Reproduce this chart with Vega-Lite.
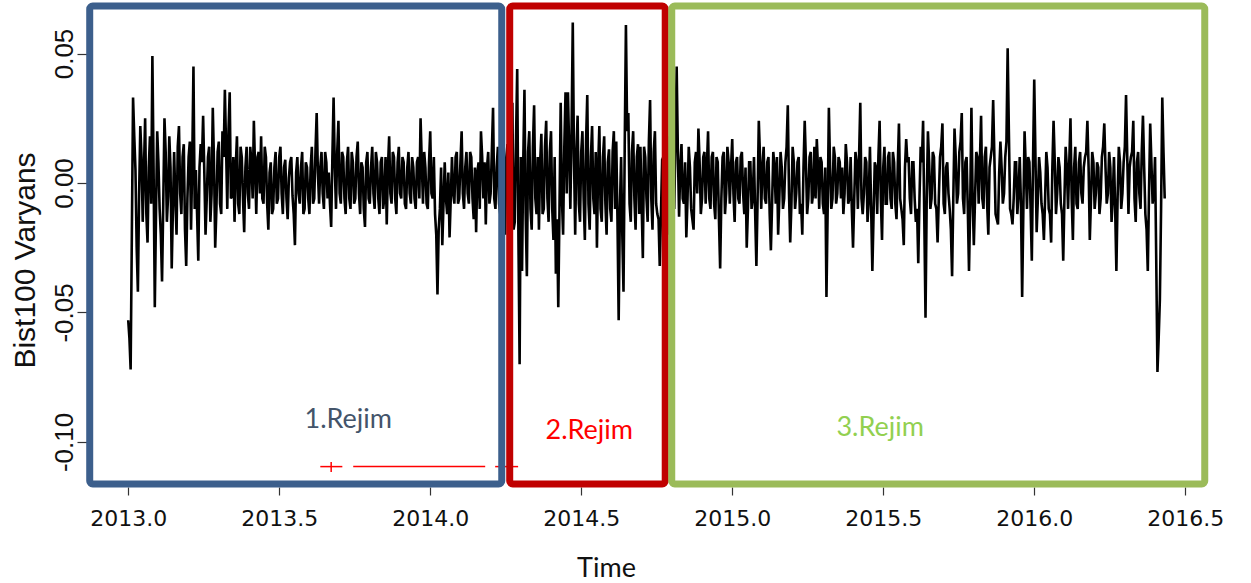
{
"$schema":"https://vega.github.io/schema/vega-lite/v6.json",
"width":1115,"height":482,
"autosize":{"type":"none"},
"padding":{"left":87,"top":5,"right":49,"bottom":96},
"background":"white",
"config":{"view":{"stroke":null}},
"datasets":{
"s":[
{"t":2013.000,"v":-0.053},{"t":2013.008,"v":-0.072},{"t":2013.016,"v":0.033},{"t":2013.024,"v":0.005},{"t":2013.032,"v":-0.042},{"t":2013.040,"v":0.022},{"t":2013.048,"v":-0.015},{"t":2013.056,"v":0.025},{"t":2013.064,"v":-0.023},{"t":2013.072,"v":0.018},
{"t":2013.080,"v":0.049},{"t":2013.088,"v":-0.048},{"t":2013.096,"v":0.020},{"t":2013.104,"v":-0.010},{"t":2013.112,"v":-0.038},{"t":2013.120,"v":0.025},{"t":2013.128,"v":-0.015},{"t":2013.136,"v":0.018},{"t":2013.144,"v":-0.033},{"t":2013.152,"v":0.012},
{"t":2013.160,"v":-0.020},{"t":2013.168,"v":0.022},{"t":2013.176,"v":-0.012},{"t":2013.184,"v":0.015},{"t":2013.192,"v":-0.032},{"t":2013.200,"v":0.010},{"t":2013.208,"v":-0.018},{"t":2013.216,"v":0.045},{"t":2013.224,"v":0.005},{"t":2013.232,"v":-0.030},
{"t":2013.240,"v":0.015},{"t":2013.248,"v":0.026},{"t":2013.256,"v":-0.020},{"t":2013.264,"v":0.010},{"t":2013.272,"v":-0.015},{"t":2013.280,"v":0.029},{"t":2013.288,"v":-0.025},{"t":2013.296,"v":0.012},{"t":2013.304,"v":-0.008},{"t":2013.312,"v":0.020},
{"t":2013.320,"v":0.036},{"t":2013.328,"v":-0.010},{"t":2013.336,"v":0.035},{"t":2013.344,"v":-0.005},{"t":2013.352,"v":-0.015},{"t":2013.360,"v":0.018},{"t":2013.368,"v":-0.012},{"t":2013.376,"v":0.010},{"t":2013.384,"v":-0.019},{"t":2013.392,"v":0.014},
{"t":2013.400,"v":-0.010},{"t":2013.408,"v":0.008},{"t":2013.416,"v":0.024},{"t":2013.424,"v":-0.012},{"t":2013.432,"v":0.012},{"t":2013.440,"v":0.018},{"t":2013.448,"v":-0.008},{"t":2013.456,"v":0.010},{"t":2013.464,"v":-0.018},{"t":2013.472,"v":0.008},
{"t":2013.480,"v":-0.010},{"t":2013.488,"v":0.012},{"t":2013.496,"v":-0.006},{"t":2013.504,"v":0.014},{"t":2013.512,"v":-0.012},{"t":2013.520,"v":0.009},{"t":2013.528,"v":-0.014},{"t":2013.536,"v":0.008},{"t":2013.544,"v":-0.005},{"t":2013.552,"v":-0.024},
{"t":2013.560,"v":0.010},{"t":2013.568,"v":-0.008},{"t":2013.576,"v":0.012},{"t":2013.584,"v":-0.010},{"t":2013.592,"v":0.006},{"t":2013.600,"v":-0.012},{"t":2013.608,"v":0.014},{"t":2013.616,"v":-0.006},{"t":2013.624,"v":0.027},{"t":2013.632,"v":-0.008},
{"t":2013.640,"v":0.012},{"t":2013.648,"v":-0.010},{"t":2013.656,"v":0.008},{"t":2013.664,"v":0.004},{"t":2013.672,"v":-0.017},{"t":2013.680,"v":0.033},{"t":2013.688,"v":-0.010},{"t":2013.696,"v":0.024},{"t":2013.704,"v":-0.008},{"t":2013.712,"v":0.010},
{"t":2013.720,"v":-0.012},{"t":2013.728,"v":0.014},{"t":2013.736,"v":-0.010},{"t":2013.744,"v":0.008},{"t":2013.752,"v":-0.006},{"t":2013.760,"v":0.016},{"t":2013.768,"v":-0.012},{"t":2013.776,"v":0.006},{"t":2013.784,"v":-0.017},{"t":2013.792,"v":0.012},
{"t":2013.800,"v":-0.008},{"t":2013.808,"v":0.014},{"t":2013.816,"v":-0.010},{"t":2013.824,"v":0.008},{"t":2013.832,"v":-0.012},{"t":2013.840,"v":0.010},{"t":2013.848,"v":-0.006},{"t":2013.856,"v":-0.016},{"t":2013.864,"v":0.018},{"t":2013.872,"v":-0.008},
{"t":2013.880,"v":0.010},{"t":2013.888,"v":-0.012},{"t":2013.896,"v":0.014},{"t":2013.904,"v":-0.006},{"t":2013.912,"v":0.008},{"t":2013.920,"v":-0.010},{"t":2013.928,"v":0.012},{"t":2013.936,"v":-0.008},{"t":2013.944,"v":0.006},{"t":2013.952,"v":-0.010},
{"t":2013.960,"v":0.010},{"t":2013.968,"v":0.025},{"t":2013.976,"v":-0.008},{"t":2013.984,"v":0.006},{"t":2013.992,"v":-0.010},{"t":2014.000,"v":0.020},{"t":2014.008,"v":-0.006},{"t":2014.016,"v":-0.012},{"t":2014.024,"v":-0.043},{"t":2014.032,"v":-0.010},
{"t":2014.040,"v":-0.024},{"t":2014.048,"v":0.008},{"t":2014.056,"v":-0.012},{"t":2014.064,"v":-0.021},{"t":2014.072,"v":0.010},{"t":2014.080,"v":-0.008},{"t":2014.088,"v":0.012},{"t":2014.096,"v":-0.006},{"t":2014.104,"v":0.020},{"t":2014.112,"v":-0.010},
{"t":2014.120,"v":0.012},{"t":2014.128,"v":-0.008},{"t":2014.136,"v":0.010},{"t":2014.144,"v":-0.014},{"t":2014.152,"v":-0.019},{"t":2014.160,"v":0.008},{"t":2014.168,"v":0.020},{"t":2014.176,"v":-0.006},{"t":2014.184,"v":-0.016},{"t":2014.192,"v":0.012},
{"t":2014.200,"v":-0.004},{"t":2014.208,"v":0.029},{"t":2014.216,"v":-0.010},{"t":2014.224,"v":0.014},{"t":2014.232,"v":-0.012},{"t":2014.240,"v":0.018},{"t":2014.248,"v":-0.020},{"t":2014.256,"v":0.015},{"t":2014.264,"v":-0.010},{"t":2014.272,"v":0.031},
{"t":2014.280,"v":-0.015},{"t":2014.288,"v":0.044},{"t":2014.296,"v":-0.070},{"t":2014.304,"v":-0.034},{"t":2014.312,"v":0.036},{"t":2014.320,"v":-0.036},{"t":2014.328,"v":0.020},{"t":2014.336,"v":-0.018},{"t":2014.344,"v":0.030},{"t":2014.352,"v":-0.012},
{"t":2014.360,"v":-0.018},{"t":2014.368,"v":0.019},{"t":2014.376,"v":-0.010},{"t":2014.384,"v":0.024},{"t":2014.392,"v":-0.015},{"t":2014.400,"v":0.020},{"t":2014.408,"v":-0.022},{"t":2014.416,"v":-0.035},{"t":2014.424,"v":-0.048},{"t":2014.432,"v":0.031},
{"t":2014.440,"v":-0.020},{"t":2014.448,"v":0.035},{"t":2014.456,"v":0.035},{"t":2014.464,"v":-0.010},{"t":2014.472,"v":0.062},{"t":2014.480,"v":-0.020},{"t":2014.488,"v":0.026},{"t":2014.496,"v":-0.015},{"t":2014.504,"v":0.020},{"t":2014.512,"v":-0.022},
{"t":2014.520,"v":0.034},{"t":2014.528,"v":-0.018},{"t":2014.536,"v":0.022},{"t":2014.544,"v":-0.012},{"t":2014.552,"v":-0.025},{"t":2014.560,"v":0.022},{"t":2014.568,"v":-0.015},{"t":2014.576,"v":0.018},{"t":2014.584,"v":-0.020},{"t":2014.592,"v":0.013},
{"t":2014.600,"v":-0.015},{"t":2014.608,"v":0.020},{"t":2014.616,"v":0.016},{"t":2014.624,"v":-0.053},{"t":2014.632,"v":0.010},{"t":2014.640,"v":-0.042},{"t":2014.648,"v":0.061},{"t":2014.656,"v":0.027},{"t":2014.664,"v":-0.015},{"t":2014.672,"v":0.020},
{"t":2014.680,"v":-0.018},{"t":2014.688,"v":0.015},{"t":2014.696,"v":0.014},{"t":2014.704,"v":-0.029},{"t":2014.712,"v":0.010},{"t":2014.720,"v":-0.015},{"t":2014.728,"v":0.032},{"t":2014.736,"v":-0.018},{"t":2014.744,"v":0.020},{"t":2014.752,"v":-0.012},
{"t":2014.760,"v":-0.032},{"t":2014.768,"v":0.009},{"t":2014.776,"v":-0.015},{"t":2014.784,"v":0.018},{"t":2014.792,"v":-0.020},{"t":2014.800,"v":0.012},{"t":2014.808,"v":-0.010},{"t":2014.816,"v":0.045},{"t":2014.824,"v":-0.013},{"t":2014.832,"v":0.015},
{"t":2014.840,"v":-0.008},{"t":2014.848,"v":-0.021},{"t":2014.856,"v":0.014},{"t":2014.864,"v":-0.010},{"t":2014.872,"v":-0.018},{"t":2014.880,"v":0.012},{"t":2014.888,"v":0.021},{"t":2014.896,"v":-0.012},{"t":2014.904,"v":0.010},{"t":2014.912,"v":-0.008},
{"t":2014.920,"v":0.020},{"t":2014.928,"v":-0.010},{"t":2014.936,"v":0.012},{"t":2014.944,"v":-0.014},{"t":2014.952,"v":0.008},{"t":2014.960,"v":-0.033},{"t":2014.968,"v":0.010},{"t":2014.976,"v":-0.012},{"t":2014.984,"v":0.014},{"t":2014.992,"v":-0.008},
{"t":2015.000,"v":0.017},{"t":2015.008,"v":-0.015},{"t":2015.016,"v":0.010},{"t":2015.024,"v":-0.008},{"t":2015.032,"v":0.012},{"t":2015.040,"v":-0.012},{"t":2015.048,"v":-0.025},{"t":2015.056,"v":0.008},{"t":2015.064,"v":-0.010},{"t":2015.072,"v":0.010},
{"t":2015.080,"v":-0.032},{"t":2015.088,"v":0.024},{"t":2015.096,"v":-0.010},{"t":2015.104,"v":0.014},{"t":2015.112,"v":-0.008},{"t":2015.120,"v":0.010},{"t":2015.128,"v":-0.026},{"t":2015.136,"v":0.012},{"t":2015.144,"v":-0.008},{"t":2015.152,"v":-0.020},
{"t":2015.160,"v":0.012},{"t":2015.168,"v":-0.010},{"t":2015.176,"v":0.008},{"t":2015.184,"v":0.030},{"t":2015.192,"v":-0.023},{"t":2015.200,"v":0.014},{"t":2015.208,"v":-0.010},{"t":2015.216,"v":0.008},{"t":2015.224,"v":-0.012},{"t":2015.232,"v":-0.020},
{"t":2015.240,"v":0.024},{"t":2015.248,"v":-0.012},{"t":2015.256,"v":0.010},{"t":2015.264,"v":-0.008},{"t":2015.272,"v":0.014},{"t":2015.280,"v":0.017},{"t":2015.288,"v":-0.010},{"t":2015.296,"v":0.008},{"t":2015.304,"v":-0.012},{"t":2015.312,"v":-0.044},
{"t":2015.320,"v":0.029},{"t":2015.328,"v":-0.010},{"t":2015.336,"v":0.014},{"t":2015.344,"v":-0.008},{"t":2015.352,"v":0.010},{"t":2015.360,"v":-0.006},{"t":2015.368,"v":-0.012},{"t":2015.376,"v":0.015},{"t":2015.384,"v":-0.008},{"t":2015.392,"v":0.010},
{"t":2015.400,"v":-0.025},{"t":2015.408,"v":0.012},{"t":2015.416,"v":-0.010},{"t":2015.424,"v":0.031},{"t":2015.432,"v":-0.012},{"t":2015.440,"v":0.010},{"t":2015.448,"v":-0.015},{"t":2015.456,"v":0.014},{"t":2015.464,"v":-0.034},{"t":2015.472,"v":0.008},
{"t":2015.480,"v":-0.012},{"t":2015.488,"v":0.024},{"t":2015.496,"v":-0.022},{"t":2015.504,"v":0.014},{"t":2015.512,"v":-0.008},{"t":2015.520,"v":0.012},{"t":2015.528,"v":-0.010},{"t":2015.536,"v":0.008},{"t":2015.544,"v":-0.014},{"t":2015.552,"v":0.023},
{"t":2015.560,"v":-0.010},{"t":2015.568,"v":-0.024},{"t":2015.576,"v":0.017},{"t":2015.584,"v":0.010},{"t":2015.592,"v":-0.012},{"t":2015.600,"v":0.008},{"t":2015.608,"v":-0.015},{"t":2015.616,"v":-0.031},{"t":2015.624,"v":0.014},{"t":2015.632,"v":0.024},
{"t":2015.640,"v":-0.052},{"t":2015.648,"v":0.020},{"t":2015.656,"v":-0.010},{"t":2015.664,"v":0.012},{"t":2015.672,"v":-0.008},{"t":2015.680,"v":-0.023},{"t":2015.688,"v":0.010},{"t":2015.696,"v":0.023},{"t":2015.704,"v":-0.012},{"t":2015.712,"v":0.008},
{"t":2015.720,"v":-0.010},{"t":2015.728,"v":-0.036},{"t":2015.736,"v":0.021},{"t":2015.744,"v":-0.008},{"t":2015.752,"v":0.012},{"t":2015.760,"v":0.027},{"t":2015.768,"v":-0.012},{"t":2015.776,"v":0.010},{"t":2015.784,"v":-0.034},{"t":2015.792,"v":0.029},
{"t":2015.800,"v":-0.024},{"t":2015.808,"v":0.012},{"t":2015.816,"v":-0.008},{"t":2015.824,"v":0.026},{"t":2015.832,"v":-0.010},{"t":2015.840,"v":0.014},{"t":2015.848,"v":-0.020},{"t":2015.856,"v":0.010},{"t":2015.864,"v":0.032},{"t":2015.872,"v":-0.012},
{"t":2015.880,"v":-0.016},{"t":2015.888,"v":0.016},{"t":2015.896,"v":-0.008},{"t":2015.904,"v":0.010},{"t":2015.912,"v":0.052},{"t":2015.920,"v":-0.010},{"t":2015.928,"v":-0.016},{"t":2015.936,"v":0.008},{"t":2015.944,"v":-0.012},{"t":2015.952,"v":0.010},
{"t":2015.960,"v":-0.044},{"t":2015.968,"v":0.020},{"t":2015.976,"v":-0.010},{"t":2015.984,"v":0.008},{"t":2015.992,"v":-0.030},{"t":2016.000,"v":0.040},{"t":2016.008,"v":-0.019},{"t":2016.016,"v":0.010},{"t":2016.024,"v":-0.008},{"t":2016.032,"v":-0.022},
{"t":2016.040,"v":0.012},{"t":2016.048,"v":-0.010},{"t":2016.056,"v":-0.023},{"t":2016.064,"v":0.024},{"t":2016.072,"v":-0.012},{"t":2016.080,"v":0.010},{"t":2016.088,"v":-0.008},{"t":2016.096,"v":-0.030},{"t":2016.104,"v":0.014},{"t":2016.112,"v":-0.010},
{"t":2016.120,"v":0.025},{"t":2016.128,"v":-0.022},{"t":2016.136,"v":0.014},{"t":2016.144,"v":-0.010},{"t":2016.152,"v":0.012},{"t":2016.160,"v":-0.008},{"t":2016.168,"v":0.010},{"t":2016.176,"v":0.024},{"t":2016.184,"v":-0.022},{"t":2016.192,"v":0.012},
{"t":2016.200,"v":-0.010},{"t":2016.208,"v":0.008},{"t":2016.216,"v":-0.012},{"t":2016.224,"v":0.010},{"t":2016.232,"v":0.023},{"t":2016.240,"v":-0.008},{"t":2016.248,"v":0.012},{"t":2016.256,"v":-0.015},{"t":2016.264,"v":0.010},{"t":2016.272,"v":-0.034},
{"t":2016.280,"v":0.014},{"t":2016.288,"v":-0.010},{"t":2016.296,"v":0.008},{"t":2016.304,"v":0.034},{"t":2016.312,"v":-0.012},{"t":2016.320,"v":0.010},{"t":2016.328,"v":0.024},{"t":2016.336,"v":-0.015},{"t":2016.344,"v":0.012},{"t":2016.352,"v":-0.010},
{"t":2016.360,"v":0.026},{"t":2016.368,"v":-0.012},{"t":2016.376,"v":-0.034},{"t":2016.384,"v":0.023},{"t":2016.392,"v":-0.008},{"t":2016.400,"v":0.010},{"t":2016.408,"v":-0.073},{"t":2016.416,"v":-0.045},{"t":2016.424,"v":0.033},{"t":2016.432,"v":-0.006},
{"t":2013.004,"v":-0.060},{"t":2013.012,"v":-0.020},{"t":2013.020,"v":0.018},{"t":2013.028,"v":-0.025},{"t":2013.036,"v":-0.005},{"t":2013.044,"v":0.010},{"t":2013.052,"v":0.005},{"t":2013.060,"v":-0.012},{"t":2013.068,"v":0.006},{"t":2013.076,"v":-0.008},
{"t":2013.084,"v":0.005},{"t":2013.092,"v":-0.012},{"t":2013.100,"v":0.008},{"t":2013.108,"v":-0.020},{"t":2013.116,"v":-0.008},{"t":2013.124,"v":0.012},{"t":2013.132,"v":-0.005},{"t":2013.140,"v":0.006},{"t":2013.148,"v":-0.010},{"t":2013.156,"v":-0.006},
{"t":2013.164,"v":0.014},{"t":2013.172,"v":-0.004},{"t":2013.180,"v":0.010},{"t":2013.188,"v":-0.018},{"t":2013.196,"v":-0.006},{"t":2013.204,"v":0.016},{"t":2013.212,"v":0.008},{"t":2013.220,"v":-0.010},{"t":2013.228,"v":-0.012},{"t":2013.236,"v":0.006},
{"t":2013.244,"v":0.008},{"t":2013.252,"v":0.004},{"t":2013.260,"v":-0.006},{"t":2013.268,"v":0.014},{"t":2013.276,"v":-0.004},{"t":2013.284,"v":0.008},{"t":2013.292,"v":-0.010},{"t":2013.300,"v":0.016},{"t":2013.308,"v":-0.012},{"t":2013.316,"v":0.010},
{"t":2013.324,"v":0.014},{"t":2013.332,"v":0.020},{"t":2013.340,"v":-0.006},{"t":2013.348,"v":0.010},{"t":2013.356,"v":0.006},{"t":2013.364,"v":-0.008},{"t":2013.372,"v":0.014},{"t":2013.380,"v":-0.006},{"t":2013.388,"v":0.006},{"t":2013.396,"v":-0.004},
{"t":2013.404,"v":0.014},{"t":2013.412,"v":-0.006},{"t":2013.420,"v":0.006},{"t":2013.428,"v":0.010},{"t":2013.436,"v":-0.004},{"t":2013.444,"v":-0.006},{"t":2013.452,"v":0.014},{"t":2013.460,"v":-0.008},{"t":2013.468,"v":0.004},{"t":2013.476,"v":-0.012},
{"t":2013.484,"v":0.006},{"t":2013.492,"v":-0.008},{"t":2013.500,"v":0.010},{"t":2013.508,"v":-0.004},{"t":2013.516,"v":0.006},{"t":2013.524,"v":-0.006},{"t":2013.532,"v":0.002},{"t":2013.540,"v":0.010},{"t":2013.548,"v":-0.012},{"t":2013.556,"v":0.004},
{"t":2013.564,"v":-0.004},{"t":2013.572,"v":0.006},{"t":2013.580,"v":-0.012},{"t":2013.588,"v":0.008},{"t":2013.596,"v":-0.006},{"t":2013.604,"v":0.006},{"t":2013.612,"v":-0.008},{"t":2013.620,"v":0.012},{"t":2013.628,"v":0.004},{"t":2013.636,"v":0.006},
{"t":2013.644,"v":-0.004},{"t":2013.652,"v":0.012},{"t":2013.660,"v":-0.006},{"t":2013.668,"v":-0.008},{"t":2013.676,"v":0.010},{"t":2013.684,"v":0.006},{"t":2013.692,"v":0.012},{"t":2013.700,"v":-0.004},{"t":2013.708,"v":0.012},{"t":2013.716,"v":-0.006},
{"t":2013.724,"v":0.008},{"t":2013.732,"v":-0.006},{"t":2013.740,"v":0.012},{"t":2013.748,"v":-0.008},{"t":2013.756,"v":0.010},{"t":2013.764,"v":-0.004},{"t":2013.772,"v":0.008},{"t":2013.780,"v":-0.010},{"t":2013.788,"v":0.008},{"t":2013.796,"v":-0.006},
{"t":2013.804,"v":0.006},{"t":2013.812,"v":-0.004},{"t":2013.820,"v":0.012},{"t":2013.828,"v":-0.006},{"t":2013.836,"v":0.008},{"t":2013.844,"v":-0.010},{"t":2013.852,"v":0.010},{"t":2013.860,"v":0.006},{"t":2013.868,"v":-0.004},{"t":2013.876,"v":0.012},
{"t":2013.884,"v":-0.006},{"t":2013.892,"v":0.008},{"t":2013.900,"v":-0.004},{"t":2013.908,"v":0.010},{"t":2013.916,"v":-0.008},{"t":2013.924,"v":0.006},{"t":2013.932,"v":-0.004},{"t":2013.940,"v":0.010},{"t":2013.948,"v":-0.006},{"t":2013.956,"v":0.008},
{"t":2013.964,"v":-0.006},{"t":2013.972,"v":0.008},{"t":2013.980,"v":0.012},{"t":2013.988,"v":-0.008},{"t":2013.996,"v":0.008},{"t":2014.004,"v":-0.004},{"t":2014.012,"v":0.010},{"t":2014.020,"v":-0.020},{"t":2014.028,"v":-0.018},{"t":2014.036,"v":0.006},
{"t":2014.044,"v":-0.008},{"t":2014.052,"v":-0.006},{"t":2014.060,"v":0.004},{"t":2014.068,"v":-0.006},{"t":2014.076,"v":-0.004},{"t":2014.084,"v":0.010},{"t":2014.092,"v":-0.008},{"t":2014.100,"v":0.008},{"t":2014.108,"v":-0.004},{"t":2014.116,"v":0.006},
{"t":2014.124,"v":-0.004},{"t":2014.132,"v":0.012},{"t":2014.140,"v":-0.006},{"t":2014.148,"v":0.006},{"t":2014.156,"v":0.004},{"t":2014.164,"v":-0.010},{"t":2014.172,"v":0.010},{"t":2014.180,"v":0.008},{"t":2014.188,"v":0.006},{"t":2014.196,"v":-0.008},
{"t":2014.204,"v":0.012},{"t":2014.212,"v":-0.006},{"t":2014.220,"v":0.006},{"t":2014.228,"v":-0.008},{"t":2014.236,"v":0.008},{"t":2014.244,"v":-0.006},{"t":2014.252,"v":0.010},{"t":2014.260,"v":0.002},{"t":2014.268,"v":0.016},{"t":2014.276,"v":-0.018},
{"t":2014.284,"v":0.016},{"t":2014.292,"v":-0.020},{"t":2014.300,"v":0.010},{"t":2014.308,"v":0.008},{"t":2014.316,"v":-0.012},{"t":2014.324,"v":0.012},{"t":2014.332,"v":-0.010},{"t":2014.340,"v":0.014},{"t":2014.348,"v":-0.006},{"t":2014.356,"v":0.010},
{"t":2014.364,"v":0.008},{"t":2014.372,"v":-0.012},{"t":2014.380,"v":0.014},{"t":2014.388,"v":-0.006},{"t":2014.396,"v":0.012},{"t":2014.404,"v":-0.010},{"t":2014.412,"v":0.010},{"t":2014.420,"v":-0.014},{"t":2014.428,"v":-0.010},{"t":2014.436,"v":-0.006},
{"t":2014.444,"v":0.014},{"t":2014.452,"v":-0.004},{"t":2014.460,"v":0.014},{"t":2014.468,"v":0.020},{"t":2014.476,"v":0.010},{"t":2014.484,"v":0.012},{"t":2014.492,"v":-0.008},{"t":2014.500,"v":0.012},{"t":2014.508,"v":-0.006},{"t":2014.516,"v":0.016},
{"t":2014.524,"v":-0.008},{"t":2014.532,"v":0.010},{"t":2014.540,"v":-0.006},{"t":2014.548,"v":0.012},{"t":2014.556,"v":0.006},{"t":2014.564,"v":-0.010},{"t":2014.572,"v":0.010},{"t":2014.580,"v":-0.008},{"t":2014.588,"v":0.008},{"t":2014.596,"v":-0.010},
{"t":2014.604,"v":0.012},{"t":2014.612,"v":-0.010},{"t":2014.620,"v":-0.014},{"t":2014.628,"v":-0.010},{"t":2014.636,"v":-0.020},{"t":2014.644,"v":0.014},{"t":2014.652,"v":0.020},{"t":2014.660,"v":-0.008},{"t":2014.668,"v":0.012},{"t":2014.676,"v":-0.006},
{"t":2014.684,"v":0.010},{"t":2014.692,"v":-0.012},{"t":2014.700,"v":-0.008},{"t":2014.708,"v":0.014},{"t":2014.716,"v":-0.006},{"t":2014.724,"v":0.016},{"t":2014.732,"v":-0.006},{"t":2014.740,"v":0.012},{"t":2014.748,"v":-0.008},{"t":2014.756,"v":-0.014},
{"t":2014.764,"v":-0.012},{"t":2014.772,"v":0.010},{"t":2014.780,"v":0.006},{"t":2014.788,"v":-0.008},{"t":2014.796,"v":0.010},{"t":2014.804,"v":-0.006},{"t":2014.812,"v":0.016},{"t":2014.820,"v":0.012},{"t":2014.828,"v":0.006},{"t":2014.836,"v":-0.006},
{"t":2014.844,"v":0.008},{"t":2014.852,"v":-0.006},{"t":2014.860,"v":0.006},{"t":2014.868,"v":-0.014},{"t":2014.876,"v":0.008},{"t":2014.884,"v":-0.004},{"t":2014.892,"v":0.008},{"t":2014.900,"v":-0.006},{"t":2014.908,"v":0.012},{"t":2014.916,"v":0.006},
{"t":2014.924,"v":-0.006},{"t":2014.932,"v":0.010},{"t":2014.940,"v":-0.008},{"t":2014.948,"v":0.010},{"t":2014.956,"v":-0.014},{"t":2014.964,"v":-0.006},{"t":2014.972,"v":0.012},{"t":2014.980,"v":-0.004},{"t":2014.988,"v":0.008},{"t":2014.996,"v":0.006},
{"t":2015.004,"v":-0.004},{"t":2015.012,"v":0.008},{"t":2015.020,"v":-0.006},{"t":2015.028,"v":0.010},{"t":2015.036,"v":-0.004},{"t":2015.044,"v":0.006},{"t":2015.052,"v":-0.010},{"t":2015.060,"v":0.008},{"t":2015.068,"v":-0.006},{"t":2015.076,"v":-0.012},
{"t":2015.084,"v":-0.006},{"t":2015.092,"v":0.010},{"t":2015.100,"v":0.006},{"t":2015.108,"v":-0.006},{"t":2015.116,"v":0.008},{"t":2015.124,"v":-0.012},{"t":2015.132,"v":-0.008},{"t":2015.140,"v":0.006},{"t":2015.148,"v":0.010},{"t":2015.156,"v":-0.006},
{"t":2015.164,"v":0.006},{"t":2015.172,"v":-0.006},{"t":2015.180,"v":0.014},{"t":2015.188,"v":-0.004},{"t":2015.196,"v":-0.008},{"t":2015.204,"v":0.008},{"t":2015.212,"v":-0.004},{"t":2015.220,"v":0.010},{"t":2015.228,"v":-0.008},{"t":2015.236,"v":0.006},
{"t":2015.244,"v":0.008},{"t":2015.252,"v":-0.006},{"t":2015.260,"v":0.012},{"t":2015.268,"v":-0.004},{"t":2015.276,"v":-0.006},{"t":2015.284,"v":0.006},{"t":2015.292,"v":0.010},{"t":2015.300,"v":-0.008},{"t":2015.308,"v":0.006},{"t":2015.316,"v":-0.010},
{"t":2015.324,"v":0.006},{"t":2015.332,"v":-0.006},{"t":2015.340,"v":0.010},{"t":2015.348,"v":-0.004},{"t":2015.356,"v":0.008},{"t":2015.364,"v":0.006},{"t":2015.372,"v":-0.004},{"t":2015.380,"v":0.008},{"t":2015.388,"v":-0.006},{"t":2015.396,"v":-0.010},
{"t":2015.404,"v":-0.006},{"t":2015.412,"v":0.008},{"t":2015.420,"v":0.010},{"t":2015.428,"v":-0.006},{"t":2015.436,"v":-0.004},{"t":2015.444,"v":0.008},{"t":2015.452,"v":-0.006},{"t":2015.460,"v":-0.010},{"t":2015.468,"v":-0.012},{"t":2015.476,"v":0.006},
{"t":2015.484,"v":0.010},{"t":2015.492,"v":-0.006},{"t":2015.500,"v":0.006},{"t":2015.508,"v":-0.008},{"t":2015.516,"v":0.010},{"t":2015.524,"v":-0.006},{"t":2015.532,"v":0.012},{"t":2015.540,"v":-0.008},{"t":2015.548,"v":0.006},{"t":2015.556,"v":-0.006},
{"t":2015.564,"v":-0.014},{"t":2015.572,"v":0.006},{"t":2015.580,"v":0.008},{"t":2015.588,"v":-0.006},{"t":2015.596,"v":0.008},{"t":2015.604,"v":-0.006},{"t":2015.612,"v":-0.010},{"t":2015.620,"v":-0.006},{"t":2015.628,"v":0.008},{"t":2015.636,"v":-0.014},
{"t":2015.644,"v":-0.006},{"t":2015.652,"v":0.008},{"t":2015.660,"v":-0.006},{"t":2015.668,"v":0.010},{"t":2015.676,"v":-0.010},{"t":2015.684,"v":-0.006},{"t":2015.692,"v":0.014},{"t":2015.700,"v":-0.008},{"t":2015.708,"v":0.006},{"t":2015.716,"v":-0.004},
{"t":2015.724,"v":-0.018},{"t":2015.732,"v":-0.006},{"t":2015.740,"v":0.010},{"t":2015.748,"v":-0.004},{"t":2015.756,"v":0.016},{"t":2015.764,"v":-0.006},{"t":2015.772,"v":0.008},{"t":2015.780,"v":-0.010},{"t":2015.788,"v":-0.008},{"t":2015.796,"v":-0.006},
{"t":2015.804,"v":-0.006},{"t":2015.812,"v":0.010},{"t":2015.820,"v":0.008},{"t":2015.828,"v":-0.006},{"t":2015.836,"v":0.010},{"t":2015.844,"v":-0.008},{"t":2015.852,"v":0.006},{"t":2015.860,"v":0.014},{"t":2015.868,"v":0.010},{"t":2015.876,"v":-0.014},
{"t":2015.884,"v":0.004},{"t":2015.892,"v":0.006},{"t":2015.900,"v":-0.004},{"t":2015.908,"v":0.016},{"t":2015.916,"v":0.020},{"t":2015.924,"v":-0.012},{"t":2015.932,"v":-0.006},{"t":2015.940,"v":0.008},{"t":2015.948,"v":-0.004},{"t":2015.956,"v":-0.008},
{"t":2015.964,"v":-0.010},{"t":2015.972,"v":0.006},{"t":2015.980,"v":0.010},{"t":2015.988,"v":-0.010},{"t":2015.996,"v":0.008},{"t":2016.004,"v":0.010},{"t":2016.012,"v":-0.006},{"t":2016.020,"v":0.004},{"t":2016.028,"v":-0.012},{"t":2016.036,"v":-0.006},
{"t":2016.044,"v":0.006},{"t":2016.052,"v":-0.012},{"t":2016.060,"v":0.006},{"t":2016.068,"v":0.008},{"t":2016.076,"v":-0.004},{"t":2016.084,"v":0.006},{"t":2016.092,"v":-0.012},{"t":2016.100,"v":-0.006},{"t":2016.108,"v":0.006},{"t":2016.116,"v":0.008},
{"t":2016.124,"v":-0.006},{"t":2016.132,"v":0.006},{"t":2016.140,"v":-0.008},{"t":2016.148,"v":0.008},{"t":2016.156,"v":-0.004},{"t":2016.164,"v":0.006},{"t":2016.172,"v":0.012},{"t":2016.180,"v":0.006},{"t":2016.188,"v":-0.006},{"t":2016.196,"v":0.008},
{"t":2016.204,"v":-0.004},{"t":2016.212,"v":0.006},{"t":2016.220,"v":-0.006},{"t":2016.228,"v":0.014},{"t":2016.236,"v":0.006},{"t":2016.244,"v":-0.004},{"t":2016.252,"v":0.006},{"t":2016.260,"v":-0.006},{"t":2016.268,"v":-0.010},{"t":2016.276,"v":-0.006},
{"t":2016.284,"v":0.008},{"t":2016.292,"v":-0.004},{"t":2016.300,"v":0.014},{"t":2016.308,"v":0.010},{"t":2016.316,"v":0.006},{"t":2016.324,"v":0.012},{"t":2016.332,"v":-0.006},{"t":2016.340,"v":0.008},{"t":2016.348,"v":-0.004},{"t":2016.356,"v":0.012},
{"t":2016.364,"v":0.006},{"t":2016.372,"v":-0.018},{"t":2016.380,"v":-0.004},{"t":2016.388,"v":0.008},{"t":2016.396,"v":-0.004},{"t":2016.404,"v":-0.030},{"t":2016.412,"v":-0.060},{"t":2016.420,"v":-0.010},{"t":2016.428,"v":0.012}
],
"ci":[
{"x1":2013.745,"x2":2014.182,"y1":-0.1095,"y2":-0.1095},
{"x1":2014.215,"x2":2014.291,"y1":-0.1095,"y2":-0.1095},
{"x1":2013.636,"x2":2013.709,"y1":-0.1095,"y2":-0.1095},
{"x1":2013.672,"x2":2013.672,"y1":-0.1077,"y2":-0.1116}
],
"boxes":[
{"regime":"1","x1":2012.8725,"x2":2014.2368,"y1":-0.11622,"y2":0.06834},
{"regime":"2","x1":2014.2632,"x2":2014.7781,"y1":-0.11622,"y2":0.06834},
{"regime":"3","x1":2014.7997,"x2":2016.5646,"y1":-0.11622,"y2":0.06834}
],
"labels":[
{"regime":"1","label":"1.Rejim","t":2013.7285,"v":-0.0915},
{"regime":"2","label":"2.Rejim","t":2014.5265,"v":-0.0958},
{"regime":"3","label":"3.Rejim","t":2015.490,"v":-0.0946}
]
},
"layer":[
{"data":{"name":"s"},
 "mark":{"type":"line","color":"black","strokeWidth":2.6,"strokeJoin":"miter","strokeMiterLimit":2},
 "encoding":{
  "x":{"field":"t","type":"quantitative","title":"Time","scale":{"domain":[2012.8635,2016.5555],"nice":false,"zero":false},
   "axis":{"title":"Time","values":[2013,2013.5,2014,2014.5,2015,2015.5,2016,2016.5],"format":".1f","domain":false,"grid":false,"tickSize":8,"tickColor":"#333","tickWidth":1.2,"labelFont":"DejaVu Sans","labelFontSize":22,"labelColor":"#111","labelPadding":13,"labelBaseline":"top","labelFlush":false,"labelOverlap":false,
    "titleFont":"Lato","titleFontSize":27,"titleFontWeight":"normal","titleColor":"#111","titleX":519,"titleY":81,"titleAlign":"center","titleBaseline":"middle"}},
  "y":{"field":"v","type":"quantitative","title":"Bist100 Varyans","scale":{"domain":[-0.117375,0.068726],"nice":false,"zero":false},
   "axis":{"title":"Bist100 Varyans","values":[-0.1,-0.05,0,0.05],"labelExpr":"replace(format(datum.value,'.2f'),'−','-')","domain":false,"grid":false,"tickSize":10,"tickColor":"#333","tickWidth":1.2,"labelFont":"Liberation Sans","labelFontSize":26,"labelColor":"#111","labelPadding":5,"labelAngle":270,"labelAlign":"center","labelBaseline":"alphabetic","labelFlush":false,"labelOverlap":false,
    "titleFont":"Liberation Sans","titleFontSize":30,"titleFontWeight":"normal","titleColor":"#111","titleAngle":270,"titleX":-62,"titleY":255,"titleAlign":"center","titleBaseline":"middle"}},
  "order":{"field":"t","type":"quantitative"}
 }},
{"data":{"name":"ci"},
 "mark":{"type":"rule","color":"#FF0000","strokeWidth":1.5},
 "encoding":{"x":{"field":"x1","type":"quantitative","title":"Time"},"x2":{"field":"x2"},"y":{"field":"y1","type":"quantitative","title":"Bist100 Varyans"},"y2":{"field":"y2"}}},
{"data":{"name":"boxes"},
 "mark":{"type":"rect","filled":false,"strokeWidth":7,"cornerRadius":3,"strokeJoin":"round"},
 "encoding":{"x":{"field":"x1","type":"quantitative","title":"Time"},"x2":{"field":"x2"},"y":{"field":"y1","type":"quantitative","title":"Bist100 Varyans"},"y2":{"field":"y2"},
  "stroke":{"field":"regime","type":"nominal","scale":{"domain":["1","2","3"],"range":["#3C5F8C","#C00000","#9BBB59"]},"legend":null}}},
{"data":{"name":"labels"},
 "mark":{"type":"text","font":"Lato","fontSize":27,"align":"center","baseline":"middle"},
 "encoding":{"x":{"field":"t","type":"quantitative","title":"Time"},"y":{"field":"v","type":"quantitative","title":"Bist100 Varyans"},"text":{"field":"label"},
  "color":{"field":"regime","type":"nominal","scale":{"domain":["1","2","3"],"range":["#44546A","#FF0000","#92D050"]},"legend":null}}}
]
}
